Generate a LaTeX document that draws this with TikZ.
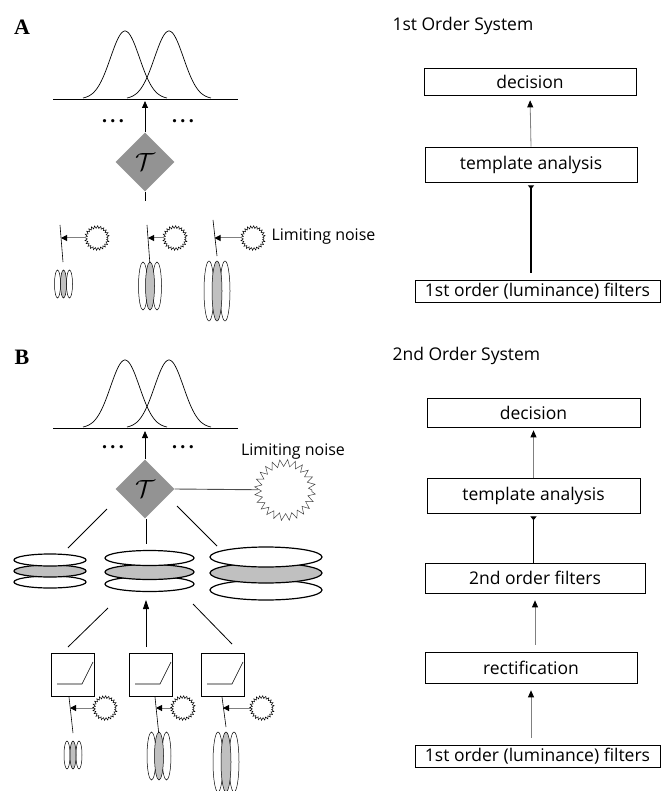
\documentclass[tikz,border=0pt]{standalone}
\usepackage{fontspec}
\setmainfont{Liberation Serif}
\newfontfamily\labfont{Open Sans}
\usetikzlibrary{arrows.meta,shapes.geometric,decorations.pathmorphing}
\definecolor{dmgray}{RGB}{147,147,147}
\definecolor{elgray}{RGB}{192,192,192}
\begin{document}
\begin{tikzpicture}[x=1pt,y=-1pt,
  lab/.style={font=\fontsize{22}{24}\selectfont\bfseries},
  txt/.style={font=\labfont\fontsize{16}{19}\selectfont},
  btxt/.style={font=\labfont\fontsize{17.5}{20}\selectfont},
  box/.style={draw,line width=0.7pt,btxt,inner sep=0pt},
  upar/.style={draw=gray,line width=0.8pt,-{Triangle[color=black,length=7pt,width=6pt]}},
  tmpar/.style={line width=1.6pt,-{Triangle[reversed,length=4pt,width=6pt]}},
  nzar/.style={draw=gray,line width=1pt,-{Triangle[color=black,length=6pt,width=6pt]}},
  decide/.style={diamond,fill=dmgray,minimum width=59pt,minimum height=59pt,inner sep=0pt,font=\fontsize{30}{30}\selectfont},
  noise/.style={circle,draw=black,line width=0.5pt,minimum size=22pt,inner sep=0pt,decorate,decoration={zigzag,segment length=2.9pt,amplitude=1.3pt}},
  gab/.style={draw,line width=0.5pt},
  disc/.style={draw,line width=1.2pt},
  dots/.style={font=\fontsize{20}{20}\selectfont\bfseries}]
  \useasboundingbox (0,0) rectangle (663,791);

  % ---------------- A : 1st order system ----------------
  \node[lab] (labA) at (22,27) {A};
  \draw[line width=0.8pt] (53,99) -- (238,99);
  \foreach \m/\a/\b in {125/83/167,169/127/211}
    \draw[line width=0.7pt] plot[domain=\a:\b,samples=60] (\x,{99-68*exp(((\x-\m)^2)/(-420))});
  \coordinate (axA) at (145,99);
  \node[decide] (dmA) at (145,162) {$\mathcal{T}$};
  \draw[line width=0.8pt,shorten >=2pt,-{Triangle[length=7pt,width=6pt]}] (dmA.north) -- (axA);
  \coordinate (inA) at (145,201);
  \draw[line width=0.8pt] (dmA.south) -- (inA);
  \node[dots] (dtA1) at (113,121) {.\,.\,.};
  \node[dots] (dtA2) at (183,121) {.\,.\,.};

  % noise sources and filters
  \foreach \i/\xt/\yt/\xb/\yb/\xh/\xn in {1/60/225/63/262/61/97,2/147/225/150/265/148/175,3/213/220/217/256/214.5/253} {
    \coordinate (tA\i) at (\xt,\yt);
    \coordinate (bA\i) at (\xb,\yb);
    \coordinate (hitA\i) at (\xh,238);
    \node[noise] (nzA\i) at (\xn,238) {};
    \draw[line width=0.6pt] (tA\i) -- (bA\i);
    \draw[nzar] (nzA\i) -- (hitA\i);
  }
  \node[txt,anchor=west] (lnA) at (268,237) {Limiting noise};
  \foreach \cx/\dx/\rx/\ry/\cy in {63.5/6/3/14/284,150/7/4.5/24/286,217/8/5/30/291} {
    \draw[gab] (\cx-\dx,\cy) ellipse [x radius=\rx,y radius=\ry];
    \draw[gab] (\cx+\dx,\cy) ellipse [x radius=\rx,y radius=\ry];
    \draw[gab,fill=elgray] (\cx,\cy) ellipse [x radius=\rx,y radius=\ry];
  }

  % flow chart A
  \node[btxt,anchor=west] (sysA) at (389,26) {1st Order System};
  \node[box,minimum width=212pt,minimum height=27pt] (decA) at (530,81.5) {decision};
  \node[box,minimum width=212pt,minimum height=35pt] (tmpA) at (531,164.5) {template analysis};
  \node[box,minimum width=245pt,minimum height=22pt] (filA) at (537.5,291) {1st order (luminance) filters};
  \draw[upar,shorten >=5pt] (tmpA.north) -- (decA.south);
  \draw[tmpar,shorten <=7pt,shorten >=3pt] (filA.north -| tmpA.south) -- (tmpA.south);

  % ---------------- B : 2nd order system ----------------
  \node[lab] (labB) at (22,357) {B};
  \draw[line width=0.8pt] (53,428) -- (238,428);
  \foreach \m/\a/\b in {125/83/167,169/127/211}
    \draw[line width=0.7pt] plot[domain=\a:\b,samples=60] (\x,{428-68*exp(((\x-\m)^2)/(-420))});
  \coordinate (axB) at (145,428);
  \node[decide] (dmB) at (145,489) {$\mathcal{T}$};
  \draw[line width=0.8pt,shorten >=3pt,-{Triangle[length=7pt,width=6pt]}] (dmB.north) -- (axB);
  \node[dots] (dtB1) at (113,447) {.\,.\,.};
  \node[dots] (dtB2) at (183,447) {.\,.\,.};
  \node[noise,minimum size=54pt,draw=black!75,decoration={zigzag,segment length=7pt,amplitude=3.5pt}] (nzBig) at (285,490) {};
  \draw[draw=black!70,line width=0.9pt] (dmB.east) -- (nzBig);
  \node[txt] (lnB) at (293,452) {Limiting noise};

  % second order filter stacks
  \foreach \cx/\rx/\ry/\ya/\yb/\yc in {50/36/6/560/571/582,149.5/44.5/7.5/558/572/584,266/56/10/557/573/590} {
    \draw[disc,fill=white] (\cx,\yc) ellipse [x radius=\rx,y radius=\ry];
    \draw[disc,fill=elgray] (\cx,\yb) ellipse [x radius=\rx,y radius=\ry];
    \draw[disc,fill=white] (\cx,\ya) ellipse [x radius=\rx,y radius=\ry];
  }
  \coordinate (dL) at (107,509);
  \coordinate (sL) at (68,548);
  \coordinate (dM) at (146,519);
  \coordinate (sM) at (146,544);
  \coordinate (dR) at (177,506);
  \coordinate (sR) at (217,546);
  \draw[line width=0.8pt] (dL) -- (sL);
  \draw[line width=1pt] (dM) -- (sM);
  \draw[line width=0.8pt] (dR) -- (sR);

  % rectification boxes
  \foreach \n/\cx in {L/72.5,M/150.5,R/222.5} {
    \node[draw,line width=0.7pt,minimum size=43pt,inner sep=0pt] (rb\n) at (\cx,675) {};
    \draw[line width=0.6pt] ([shift={(-15.5,9)}]rb\n.center) -- ++(25,0) -- ++(11,-22);
  }
  \coordinate (uL) at (108,608);
  \coordinate (vL) at (68,647);
  \coordinate (uM) at (146,600);
  \coordinate (vM) at (146,647);
  \coordinate (uR) at (193,604);
  \coordinate (vR) at (232,644);
  \draw[line width=0.8pt] (uL) -- (vL);
  \draw[line width=0.8pt,-{Triangle[length=9pt,width=6pt]}] (vM) -- (uM);
  \draw[line width=0.8pt] (uR) -- (vR);

  % noise sources and first order filters
  \foreach \i/\xt/\xb/\yb/\xh/\xn in {1/69/73/733/70/105,2/155/159/736/156/183,3/222/226/727/223/262} {
    \coordinate (tB\i) at (\xt,697);
    \coordinate (bB\i) at (\xb,\yb);
    \coordinate (hitB\i) at (\xh,708);
    \node[noise] (nzB\i) at (\xn,708) {};
    \draw[line width=0.6pt] (tB\i) -- (bB\i);
    \draw[nzar] (nzB\i) -- (hitB\i);
  }
  \foreach \cx/\dx/\rx/\ry/\cy in {73/6/3/14/755,159/7.5/4.5/24/756,226/8/5/30/762} {
    \draw[gab] (\cx-\dx,\cy) ellipse [x radius=\rx,y radius=\ry];
    \draw[gab] (\cx+\dx,\cy) ellipse [x radius=\rx,y radius=\ry];
    \draw[gab,fill=elgray] (\cx,\cy) ellipse [x radius=\rx,y radius=\ry];
  }

  % flow chart B
  \node[btxt,anchor=west] (sysB) at (389,356) {2nd Order System};
  \node[box,minimum width=213pt,minimum height=29pt] (decB) at (533.5,412.5) {decision};
  \node[box,minimum width=213pt,minimum height=35pt] (tmpB) at (533.5,495.5) {template analysis};
  \node[box,minimum width=220pt,minimum height=30pt] (sndB) at (535,578) {2nd order filters};
  \node[box,minimum width=212pt,minimum height=31pt] (recB) at (531,667.5) {rectification};
  \node[box,minimum width=245pt,minimum height=22pt] (filB) at (537.5,756) {1st order (luminance) filters};
  \draw[upar,shorten >=3pt] (tmpB.north) -- (decB.south);
  \draw[tmpar,shorten >=3pt] (sndB.north -| tmpB.south) -- (tmpB.south);
  \draw[upar,shorten <=7pt,shorten >=7pt] (recB.north -| sndB.south) -- (sndB.south);
  \draw[upar,shorten <=7pt,shorten >=7pt] (filB.north -| recB.south) -- (recB.south);
\end{tikzpicture}
\end{document}
